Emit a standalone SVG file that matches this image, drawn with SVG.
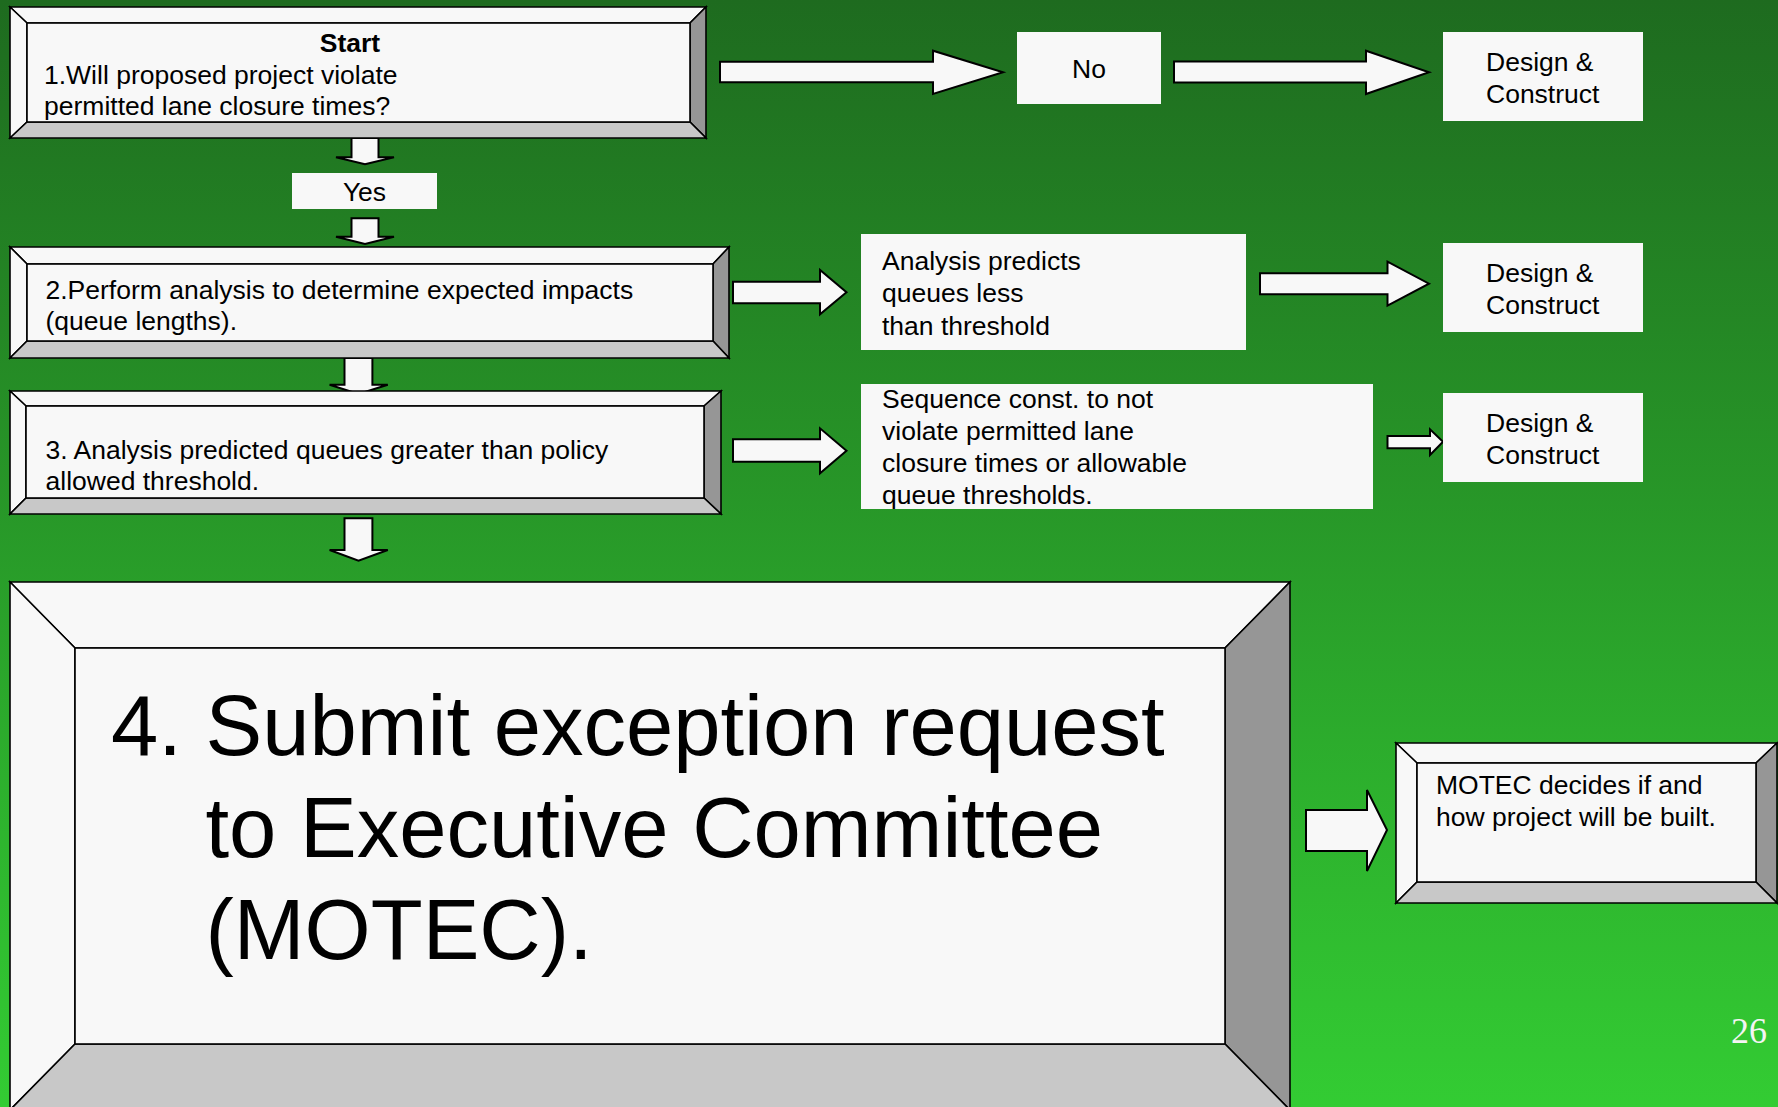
<svg xmlns="http://www.w3.org/2000/svg" width="1778" height="1107" viewBox="0 0 1778 1107">
  <defs>
    <linearGradient id="bg" x1="0" y1="0" x2="0" y2="1">
      <stop offset="0" stop-color="#1e6b1f"/>
      <stop offset="1" stop-color="#33cc33"/>
    </linearGradient>
  </defs>
  <style>
    .face { fill: #f8f8f8; stroke: #000; stroke-width: 1.6; stroke-linejoin: miter; }
    .shade-r { fill: #969696; stroke: #000; stroke-width: 1.6; }
    .shade-b { fill: #c8c8c8; stroke: #000; stroke-width: 1.6; }
    .plain { fill: #f8f8f8; }
    .arrow { fill: #f8f8f8; stroke: #000; stroke-width: 2; stroke-linejoin: miter; }
    text { font-family: "Liberation Sans", Arial, sans-serif; fill: #000; }
    .t { font-size: 26.5px; }
    .big { font-size: 85px; }
    .bold { font-weight: bold; }
    .pg { font-family: "Liberation Serif", "Times New Roman", serif; font-size: 36px; fill: #f4f4f4; }
  </style>

  <rect width="1778" height="1107" fill="url(#bg)"/>

  <!-- block arrows between steps -->
  <g id="connectors">
    <polygon class="arrow" points="720,61.7 933,61.7 933,50.7 1003,72.3 933,94 933,82.3 720,82.3"/>
    <polygon class="arrow" points="1174,61.5 1366,61.5 1366,50.7 1429,72.3 1366,94 1366,82.5 1174,82.5"/>
    <polygon class="arrow" points="733,281.7 820,281.7 820,270 846.5,292.3 820,314.3 820,303.3 733,303.3"/>
    <polygon class="arrow" points="1260,273.3 1387.5,273.3 1387.5,261.7 1429,283.7 1387.5,305.7 1387.5,294.3 1260,294.3"/>
    <polygon class="arrow" points="733,439.3 820,439.3 820,428.3 846.5,450.7 820,473.3 820,461.7 733,461.7"/>
    <polygon class="arrow" points="1387.5,436 1430,436 1430,429.3 1443,441.7 1430,455 1430,448.3 1387.5,448.3"/>
    <polygon class="arrow" points="1306,810 1367,810 1367,790 1387,830 1367,871 1367,851 1306,851"/>
    <polygon class="arrow" points="351.5,138 378.5,138 378.5,157.3 394,157.3 365,164.3 336,157.3 351.5,157.3"/>
    <polygon class="arrow" points="351.5,218.3 378.5,218.3 378.5,236.7 394,236.7 365,244 336,236.7 351.5,236.7"/>
    <polygon class="arrow" points="344.5,358 372.4,358 372.4,384.7 387.8,384.7 358.5,394 329.6,384.7 344.5,384.7"/>
    <polygon class="arrow" points="344.5,518.3 372.4,518.3 372.4,550 387.8,550 358.5,560.7 329.6,550 344.5,550"/>
  </g>

  <!-- step 1: bevelled box -->
  <g id="step1">
    <polygon class="face" points="10,7 706,7 690,23 27,23"/>
    <polygon class="face" points="10,7 27,23 27,122 10,138"/>
    <polygon class="shade-r" points="706,7 706,138 690,122 690,23"/>
    <polygon class="shade-b" points="10,138 27,122 690,122 706,138"/>
    <rect class="face" x="27" y="23" width="663" height="99"/>
    <text class="t bold" x="350" y="51.5" text-anchor="middle">Start</text>
    <text class="t" x="44" y="83.5">1.Will proposed project violate</text>
    <text class="t" x="44" y="114.5">permitted lane closure times?</text>
  </g>

  <g id="yes">
    <rect class="plain" x="292" y="173" width="145" height="36"/>
    <text class="t" x="364.5" y="200.5" text-anchor="middle">Yes</text>
  </g>

  <g id="no">
    <rect class="plain" x="1017" y="32" width="144" height="72"/>
    <text class="t" x="1089" y="78" text-anchor="middle">No</text>
  </g>

  <g id="design1">
    <rect class="plain" x="1443" y="32" width="200" height="89"/>
    <text class="t" x="1486" y="71">Design &amp;</text>
    <text class="t" x="1486" y="103">Construct</text>
  </g>

  <!-- step 2 -->
  <g id="step2">
    <polygon class="face" points="10,247 729,247 713,264 27,264"/>
    <polygon class="face" points="10,247 27,264 27,341 10,358"/>
    <polygon class="shade-r" points="729,247 729,358 713,341 713,264"/>
    <polygon class="shade-b" points="10,358 27,341 713,341 729,358"/>
    <rect class="face" x="27" y="264" width="686" height="77"/>
    <text class="t" x="45.5" y="298.5">2.Perform analysis to determine expected impacts</text>
    <text class="t" x="45.5" y="330">(queue lengths).</text>
  </g>

  <g id="analysis">
    <rect class="plain" x="861" y="234" width="385" height="116"/>
    <text class="t" x="882" y="270">Analysis predicts</text>
    <text class="t" x="882" y="302">queues less</text>
    <text class="t" x="882" y="335">than threshold</text>
  </g>

  <g id="design2">
    <rect class="plain" x="1443" y="243" width="200" height="89"/>
    <text class="t" x="1486" y="282">Design &amp;</text>
    <text class="t" x="1486" y="314">Construct</text>
  </g>

  <!-- step 3 -->
  <g id="step3">
    <polygon class="face" points="10,391 721,391 704,406 26,406"/>
    <polygon class="face" points="10,391 26,406 26,498 10,514"/>
    <polygon class="shade-r" points="721,391 721,514 704,498 704,406"/>
    <polygon class="shade-b" points="10,514 26,498 704,498 721,514"/>
    <rect class="face" x="26" y="406" width="678" height="92"/>
    <text class="t" x="45.5" y="458.5">3. Analysis predicted queues greater than policy</text>
    <text class="t" x="45.5" y="489.5">allowed threshold.</text>
  </g>

  <g id="sequence">
    <rect class="plain" x="861" y="384" width="512" height="125"/>
    <text class="t" x="882" y="408">Sequence const. to not</text>
    <text class="t" x="882" y="440">violate permitted lane</text>
    <text class="t" x="882" y="472">closure times or allowable</text>
    <text class="t" x="882" y="504">queue thresholds.</text>
  </g>

  <g id="design3">
    <rect class="plain" x="1443" y="393" width="200" height="89"/>
    <text class="t" x="1486" y="431.5">Design &amp;</text>
    <text class="t" x="1486" y="463.5">Construct</text>
  </g>

  <!-- step 4: large bevelled box running off the bottom edge -->
  <g id="step4">
    <polygon class="face" points="10,582 1290,582 1225,648 75,648"/>
    <polygon class="face" points="10,582 75,648 75,1044 10,1110"/>
    <polygon class="shade-r" points="1290,582 1290,1110 1225,1044 1225,648"/>
    <polygon class="shade-b" points="10,1110 75,1044 1225,1044 1290,1110"/>
    <rect class="face" x="75" y="648" width="1150" height="396"/>
    <text class="big" x="111" y="755">4. Submit exception request</text>
    <text class="big" x="205.5" y="857">to Executive Committee</text>
    <text class="big" x="205.5" y="959">(MOTEC).</text>
  </g>

  <!-- outcome -->
  <g id="motec">
    <polygon class="face" points="1396,743 1777,743 1756,763 1417,763"/>
    <polygon class="face" points="1396,743 1417,763 1417,882 1396,903"/>
    <polygon class="shade-r" points="1777,743 1777,903 1756,882 1756,763"/>
    <polygon class="shade-b" points="1396,903 1417,882 1756,882 1777,903"/>
    <rect class="face" x="1417" y="763" width="339" height="119"/>
    <text class="t" x="1436" y="794">MOTEC decides if and</text>
    <text class="t" x="1436" y="826">how project will be built.</text>
  </g>

  <text class="pg" x="1767" y="1043" text-anchor="end">26</text>
</svg>
